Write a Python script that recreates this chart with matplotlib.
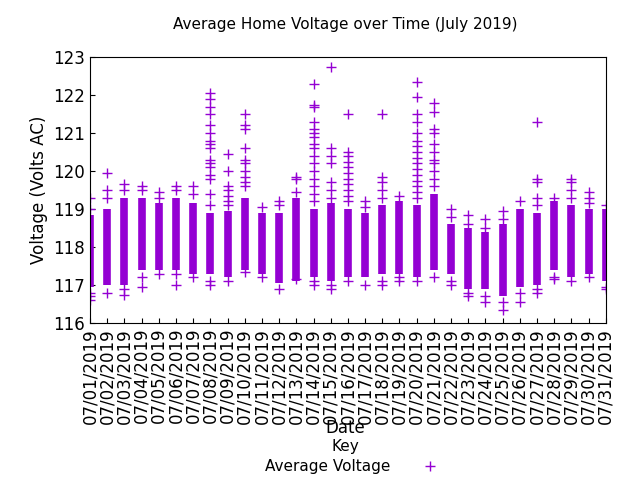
import matplotlib
matplotlib.use("Agg")
import matplotlib.pyplot as plt

days = list(range(1, 32))
labels = ["07/%02d/2019" % d for d in days]

# dense band per day (low, high) in volts
band_low = [116.95, 117.0, 117.0, 117.4, 117.4, 117.4, 117.3, 117.3, 117.2, 117.4,
            117.3, 117.05, 117.1, 117.2, 117.1, 117.2, 117.2, 117.3, 117.3, 117.2,
            117.4, 117.3, 116.9, 116.9, 116.7, 116.95, 117.0, 117.4, 117.2, 117.3, 117.1]
band_high = [118.85, 119.0, 119.3, 119.3, 119.15, 119.3, 119.15, 118.9, 118.95, 119.3,
             118.9, 118.9, 119.3, 119.0, 119.15, 119.0, 118.9, 119.1, 119.2, 119.1,
             119.4, 118.6, 118.5, 118.4, 118.6, 119.0, 118.9, 119.2, 119.1, 119.0, 119.0]

# readings lying outside the dense band
extra = {
    1: [119.3, 119.0, 116.8, 116.7, 116.6],
    2: [119.95, 119.5, 119.3, 116.8],
    3: [119.65, 119.5, 116.75, 116.9],
    4: [119.6, 119.5, 117.2, 116.95],
    5: [119.45, 119.3, 117.3],
    6: [119.6, 119.5, 117.3, 117.0],
    7: [119.6, 119.4, 117.2],
    8: [119.1, 119.4, 119.8, 119.9, 120.1, 120.2, 120.3, 120.6, 120.7, 120.8, 121.0,
        121.2, 121.5, 121.7, 121.9, 122.05, 117.1, 117.0],
    9: [119.1, 119.2, 119.35, 119.5, 119.6, 120.0, 120.45, 117.1],
    10: [119.6, 119.7, 119.85, 120.0, 120.2, 120.3, 120.6, 121.1, 121.2, 121.5, 117.35],
    11: [119.05, 117.2],
    12: [119.1, 119.2, 116.9],
    13: [119.45, 119.8, 119.85, 117.15],
    14: [119.2, 119.4, 119.6, 119.8, 120.0, 120.2, 120.4, 120.6, 120.7, 120.9, 121.0,
         121.1, 121.3, 121.7, 121.75, 122.3, 117.0, 117.1],
    15: [119.3, 119.5, 119.7, 120.2, 120.4, 120.6, 122.75, 116.9, 117.0],
    16: [119.2, 119.35, 119.5, 119.65, 119.8, 119.95, 120.1, 120.25, 120.4, 120.5,
         121.5, 117.1],
    17: [119.05, 119.2, 117.0],
    18: [119.3, 119.5, 119.7, 119.85, 121.5, 117.1, 117.0],
    19: [119.35, 117.2, 117.1],
    20: [119.3, 119.45, 119.6, 119.75, 119.9, 120.05, 120.2, 120.35, 120.5, 120.65,
         120.8, 121.0, 121.3, 121.5, 121.95, 122.35, 117.1],
    21: [119.6, 119.8, 120.0, 120.2, 120.3, 120.5, 120.7, 121.0, 121.1, 121.55, 121.8,
         117.2],
    22: [118.8, 119.0, 117.1, 117.0],
    23: [118.6, 118.85, 116.8, 116.7],
    24: [118.5, 118.75, 116.7, 116.55],
    25: [118.75, 118.95, 116.55, 116.35],
    26: [119.2, 116.8, 116.55],
    27: [119.1, 119.3, 119.7, 119.8, 121.3, 116.9, 116.8],
    28: [119.3, 117.2, 117.15],
    29: [119.3, 119.5, 119.7, 119.8, 117.1],
    30: [119.15, 119.3, 119.45, 117.2],
    31: [119.1, 116.95, 116.9],
}

color = "#9400D3"
fig = plt.figure(figsize=(6.4, 4.8), dpi=100)
ax = fig.add_axes([0.1406, 0.327, 0.806, 0.554])

ax.vlines(days, band_low, band_high, colors=color, linewidth=5.5, zorder=2)
xs, ys = [], []
for d in days:
    for v in extra[d]:
        xs.append(d)
        ys.append(v)
pts, = ax.plot(xs, ys, linestyle="none", marker="+", markersize=7,
               markeredgewidth=1.0, color=color, label="Average Voltage")

ax.set_xlim(1, 31)
ax.set_ylim(116, 123)
ax.set_xticks(days)
ax.set_xticklabels(labels, rotation=90, fontsize=12)
ax.set_yticks(range(116, 124))
ax.tick_params(axis="y", labelsize=12)
ax.tick_params(direction="in", top=False, right=False)
ax.set_ylabel("Voltage (Volts AC)", fontsize=12)
fig.text(0.54, 0.94, "Average Home Voltage over Time (July 2019)",
         ha="center", fontsize=11)
fig.text(0.54, 0.098, "Date", ha="center", fontsize=12)
fig.text(0.54, 0.06, "Key", ha="center", fontsize=11)
fig.text(0.61, 0.018, "Average Voltage", ha="right", fontsize=11)
fig.lines.append(plt.Line2D([0.672], [0.03], marker="+", color=color,
                            markersize=7, transform=fig.transFigure))

fig.savefig("out.png", dpi=100)
